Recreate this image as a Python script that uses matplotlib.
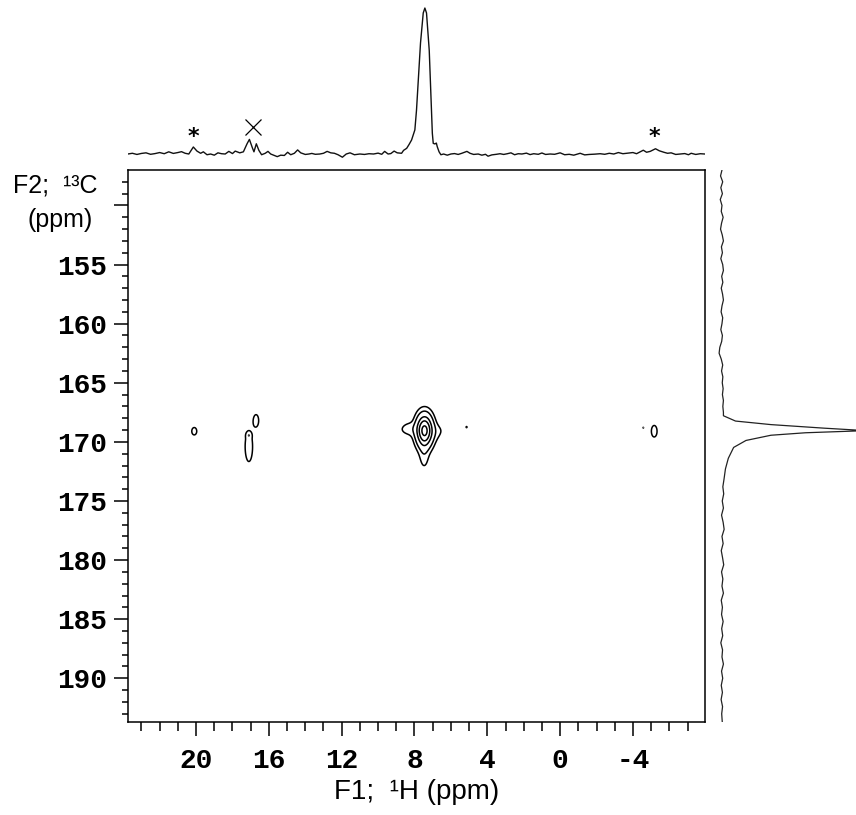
import numpy as np
import matplotlib
matplotlib.use("Agg")
import matplotlib.pyplot as plt

# ---------------- data ----------------
# F1 (1H) projection: chemical shift (ppm) and intensity (% of main peak)
top_ppm = [23.75, 23.5, 23.25, 23.0, 22.75, 22.5, 22.25, 22.0, 21.75, 21.5, 21.25, 21.0,
           20.8, 20.6, 20.4, 20.15, 19.95, 19.75, 19.6, 19.4, 19.2, 19.0, 18.8, 18.6,
           18.4, 18.2, 18.0, 17.85, 17.6, 17.4, 17.2, 17.07, 16.9, 16.82, 16.69, 16.55,
           16.4, 16.2, 16.05, 15.9, 15.7, 15.54, 15.35, 15.15, 14.97, 14.8, 14.6, 14.42,
           14.25, 14.0, 13.8, 13.64, 13.45, 13.2, 13.0, 12.8, 12.6, 12.4, 12.2, 11.96,
           11.75, 11.54, 11.3, 11.0, 10.75, 10.5, 10.25, 10.0, 9.8, 9.64, 9.45, 9.3,
           9.12, 8.95, 8.71, 8.6, 8.43, 8.3, 8.16, 7.98, 7.89, 7.80, 7.67, 7.52, 7.43,
           7.34, 7.19, 7.10, 7.02, 6.97, 6.88, 6.80, 6.75, 6.65, 6.55, 6.4, 6.2, 6.0,
           5.8, 5.6, 5.4, 5.12, 4.95, 4.75, 4.5, 4.3, 4.1, 3.96, 3.75, 3.5, 3.3, 3.1,
           2.9, 2.7, 2.5, 2.3, 2.1, 1.85, 1.65, 1.45, 1.2, 1.0, 0.8, 0.55, 0.3, 0.0,
           -0.25, -0.5, -0.75, -1.1, -1.35, -1.6, -1.9, -2.2, -2.45, -2.7, -2.95, -3.2,
           -3.45, -3.75, -4.0, -4.2, -4.4, -4.57, -4.75, -4.95, -5.24, -5.45, -5.7,
           -5.9, -6.1, -6.35, -6.6, -6.85, -7.05, -7.2, -7.45, -7.7, -7.95]
top_int = [0.0, 0.5, -0.3, 0.4, 0.8, -0.2, 0.3, 1.0, 0.2, 1.5, 0.4, 1.0,
           1.6, 0.5, 0.0, 4.8, 2.0, 0.5, 1.5, -0.5, 0.0, -0.8, 0.8, 0.2,
           0.0, 1.8, 0.3, 2.0, 0.8, 1.5, 7.0, 10.0, 4.0, 1.5, 7.0, 2.5,
           -0.5, 0.5, 1.8, 0.0, -1.0, -1.8, -0.8, -1.0, 1.2, -0.5, 0.5, 2.8,
           0.8, -0.3, 0.0, 0.4, -0.2, 0.0, 0.5, 1.8, 0.8, 0.5, -0.5, -2.2,
           0.0, 0.8, -0.5, 0.0, -0.3, 0.2, 0.0, 0.6, -0.2, 1.8, 0.0, 0.3,
           2.0, 0.8, 0.5, 2.5, 3.9, 6.5, 9.6, 16.5, 30.0, 48.5, 76.0, 96.6, 100.0,
           96.6, 71.0, 41.7, 14.2, 7.3, 6.9, 7.5, 5.0, 1.5, -0.5, 0.0, -0.8, 0.0,
           0.3, -0.3, 0.5, 1.8, 0.5, -0.3, 0.0, -0.8, -0.2, -1.5, -0.6, -0.2, 0.2, -0.3,
           0.2, 0.8, -0.5, 0.2, 0.0, 0.6, -0.4, 0.2, -0.2, 0.7, -0.3, 0.0, -0.2, 0.8,
           -0.5, -0.2, -0.8, 0.5, -0.6, -0.3, -0.1, 0.2, -0.2, 0.5, 0.0, 1.0,
           0.2, 0.6, 1.0, 0.2, 1.5, 2.6, 1.2, 1.8, 3.6, 2.2, 1.2,
           0.5, 0.8, -0.3, 0.0, 0.3, -0.5, 0.5, -0.3, 0.2, 0.0]

# F2 (13C) projection: chemical shift (ppm) and intensity (% of peak)
side_ppm = [147.0, 147.5, 148.0, 148.5, 149.0, 149.5, 150.0, 150.5, 151.0, 151.5, 152.0,
            152.5, 153.0, 153.5, 154.0, 154.5, 155.0, 155.5, 156.0, 156.5, 157.0, 157.5,
            158.0, 158.5, 159.0, 159.5, 160.0, 160.5, 161.0, 161.5, 162.0, 162.5, 163.0,
            163.5, 164.0, 164.5, 165.0, 165.5, 166.0, 166.5, 167.0, 167.5, 167.79, 168.24,
            168.54, 168.84, 169.05, 169.23, 169.44, 169.88, 170.47, 171.39, 172.29, 173.17,
            173.8, 174.4, 175.0, 175.6, 176.2, 176.8, 177.4, 178.0, 178.6, 179.2, 179.8,
            180.4, 181.0, 181.6, 182.2, 182.8, 183.4, 184.0, 184.6, 185.2, 185.8, 186.4,
            187.0, 187.6, 188.2, 188.8, 189.4, 190.0, 190.6, 191.2, 191.8, 192.4, 193.0, 193.7]
side_int = [0.0, -1.0, 0.5, -0.8, 0.3, -1.2, 0.0, -0.5, 0.8, -0.3, -1.0,
            0.2, 1.0, -0.4, 0.3, -0.8, 0.5, 1.0, -0.2, 0.6, -0.5, 0.4,
            1.0, 0.0, -0.6, 0.5, 0.0, -0.8, 0.3, -0.2, -1.5, -2.0, -0.5,
            0.5, -0.3, 0.6, 0.2, 0.8, 0.3, 1.0, 0.6, 1.0, 1.0, 9.4,
            34.0, 70.8, 100.0, 58.0, 34.0, 16.7, 8.1, 4.4, 2.4, 1.4,
            0.6, 1.2, 0.2, 1.0, -0.3, 0.8, 1.5, 0.0, 0.8, -0.5, 0.4,
            1.2, -0.3, 0.6, 0.0, 1.0, -0.5, 0.3, -0.3, 0.8, -0.2, 0.5,
            -0.8, 0.4, 0.0, 1.0, -0.3, 0.5, -0.5, 0.3, -0.6, 0.4, -0.2, 0.2]

# 2D cross peaks (Gaussian components): 1H centre, 13C centre, widths, amplitude
peak_h   = [7.45, 7.65, 7.47, 8.25, 6.90, 20.10, 16.70, 17.10, 17.10, 5.14, -4.57, -5.17]
peak_c   = [169.05, 169.00, 170.80, 168.80, 169.30, 169.10, 168.20, 170.40, 169.45, 168.75, 168.80, 169.10]
peak_wh  = [0.25, 0.80, 0.17, 0.30, 0.28, 0.14, 0.14, 0.21, 0.08, 0.04, 0.03, 0.16]
peak_wc  = [0.75, 0.40, 0.90, 0.35, 0.45, 0.32, 0.50, 1.30, 0.15, 0.08, 0.07, 0.50]
peak_amp = [100.0, 4.0, 6.0, 2.2, 2.0, 4.0, 4.0, 4.0, 6.0, 3.0, 2.8, 4.0]
contour_levels = [2.5, 8.9, 29.6, 55.8, 90.0]

# annotations on the 1H projection
mark_ppm = [20.13, 16.90, -5.20]
mark_int = [11.9, 18.8, 11.9]
mark_sym = ['*', 'x', '*']

x_major = [20, 16, 12, 8, 4, 0, -4]
y_major = [150, 155, 160, 165, 170, 175, 180, 185, 190]
y_labels = ['', '155', '160', '165', '170', '175', '180', '185', '190']

xlim = (23.74, -7.96)
ylim = (193.7, 147.0)

# ---------------- figure ----------------
plt.rcParams['axes.unicode_minus'] = False
W, H = 856, 815
fig = plt.figure(figsize=(W / 100, H / 100), dpi=100)

def rect(l, r, t, b):
    return [l / W, 1 - b / H, (r - l) / W, (b - t) / H]

ax = fig.add_axes(rect(128, 705, 170, 722))
ax_top = fig.add_axes(rect(128, 705, 0, 165))
ax_side = fig.add_axes(rect(706, 856, 170, 722))

# contour field
gx = np.linspace(xlim[1], xlim[0], 2400)
gy = np.linspace(ylim[1], ylim[0], 1600)
Z = np.zeros((gy.size, gx.size))
for h0, c0, wh, wc, a in zip(peak_h, peak_c, peak_wh, peak_wc, peak_amp):
    fx = np.exp(-(gx - h0) ** 2 / (2 * wh ** 2))
    fy = np.exp(-(gy - c0) ** 2 / (2 * wc ** 2))
    Z += a * np.outer(fy, fx)
ax.contour(gx, gy, Z, levels=contour_levels, colors='black', linewidths=1.1)

ax.set_xlim(*xlim)
ax.set_ylim(*ylim)
ax.set_xticks(x_major)
ax.set_xticklabels([str(v) for v in x_major])
ax.set_xticks(np.arange(-7, 24, 1), minor=True)
ax.set_yticks(y_major)
ax.set_yticklabels(y_labels)
ax.set_yticks(np.arange(148, 194, 1), minor=True)
for sp in ax.spines.values():
    sp.set_linewidth(1.1)
ax.tick_params(axis='both', which='major', direction='out', length=10, width=1.1)
ax.tick_params(axis='x', which='minor', direction='out', length=6.5, width=1.1)
ax.tick_params(axis='y', which='minor', direction='out', length=4.5, width=1.1)
ax.tick_params(axis='x', which='major', pad=9)
ax.tick_params(axis='y', which='major', pad=5)
for lab in ax.get_xticklabels() + ax.get_yticklabels():
    lab.set_fontfamily('Liberation Mono')
    lab.set_fontweight('bold')
    lab.set_fontsize(20)
ax.set_xlabel('F1;  \u00b9H (ppm)', family='Liberation Sans', fontsize=20, labelpad=3)

fig.text(13 / W, 1 - 193 / H, 'F2;  \u00b9\u00b3C', family='Liberation Sans', fontsize=18,
         ha='left', va='baseline')
fig.text(60 / W, 1 - 220 / H, '(ppm)', family='Liberation Sans', fontsize=18,
         ha='center', va='center')

# top projection
ax_top.plot(top_ppm, top_int, color='#111111', lw=1.0)
ax_top.set_xlim(*xlim)
ax_top.set_ylim(-7.53, 105.5)
for p, v, s in zip(mark_ppm, mark_int, mark_sym):
    if s == 'x':
        ax_top.plot([p], [v], marker='x', ms=11, mew=0.9, color='black')
    else:
        ax_top.text(p, v, '*', ha='center', va='center', fontsize=16,
                    fontweight='bold', family='DejaVu Sans')
ax_top.axis('off')

# side projection
ax_side.plot(side_int, side_ppm, color='#222222', lw=0.9)
ax_side.set_ylim(*ylim)
ax_side.set_xlim(-11.1, 93.1)
ax_side.axis('off')

fig.savefig('out.png', dpi=100)
